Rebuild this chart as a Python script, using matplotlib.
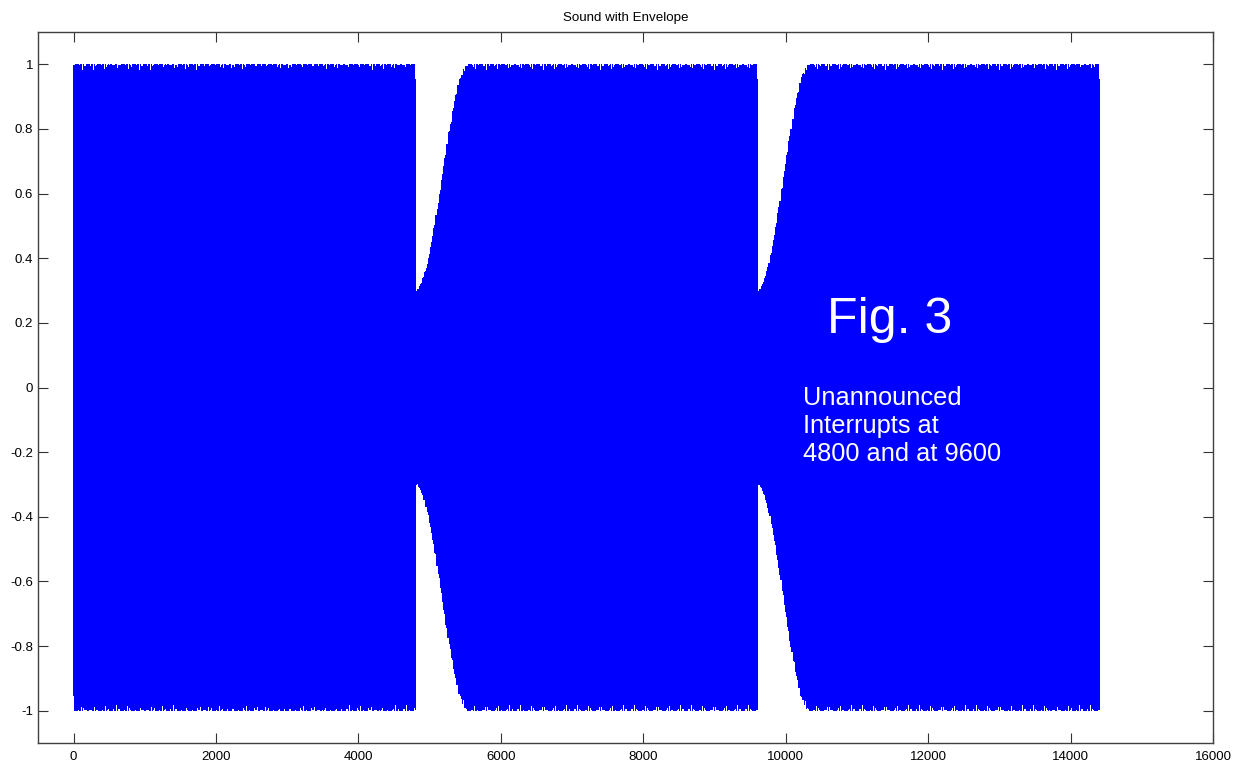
import numpy as np
import matplotlib.pyplot as plt

# sound parameters
fs = 8000
tone_hz = 1870
n_samples = 14400
interrupts = [4800, 9600]          # samples where the sound restarts
restart_level = [0.3, 0.3]         # envelope value right after each interrupt
ramp_len = [750, 740]              # samples until the envelope is back at 1

xticks = [0, 2000, 4000, 6000, 8000, 10000, 12000, 14000, 16000]
yticks = [-1, -0.8, -0.6, -0.4, -0.2, 0, 0.2, 0.4, 0.6, 0.8, 1]
ytick_labels = ['-1', '-0.8', '-0.6', '-0.4', '-0.2', '0', '0.2', '0.4', '0.6', '0.8', '1']

n = np.arange(n_samples)
env = np.ones(n_samples)
for start, lvl, ln in zip(interrupts, restart_level, ramp_len):
    k = np.arange(ln)
    env[start:start + ln] = lvl + (1 - lvl) * (1 - np.cos(np.pi * k / ln)) / 2

# tone restarts at each interrupt
phase_n = n.copy()
for start in interrupts:
    phase_n[start:] = n[start:] - start
sound = env * np.sin(2 * np.pi * tone_hz * phase_n / fs)

plt.rcParams['font.family'] = ['Liberation Sans', 'DejaVu Sans']

fig = plt.figure(figsize=(12.41, 7.68), dpi=100)
ax = fig.add_axes([38 / 1241, 25 / 768, 1175 / 1241, 711 / 768])
ax.plot(n, sound, color='#0000ff', linewidth=0.5, antialiased=False)

ax.set_xlim(-500, 16000)
ax.set_ylim(-1.1, 1.1)
ax.set_xticks(xticks)
ax.set_yticks(yticks)
ax.set_yticklabels(ytick_labels)
ax.tick_params(direction='in', length=7.5, width=0.8, top=True, right=True,
               labelsize=9.5, colors='#333333', labelcolor='black')
ax.tick_params(axis='x', pad=5.5)
ax.tick_params(axis='y', pad=3.5)
for s in ax.spines.values():
    s.set_color('#404040')
    s.set_linewidth(1.0)

ax.set_title('Sound with Envelope', fontsize=9.6, pad=8)

ax.text(10580, 0.21, 'Fig. 3', color='white', fontsize=36, va='center', ha='left')
ax.text(10240, 0.006, 'Unannounced\nInterrupts at\n4800 and at 9600', color='white',
        fontsize=18.3, va='top', ha='left', linespacing=1.22)

plt.savefig('out.png', dpi=100)
